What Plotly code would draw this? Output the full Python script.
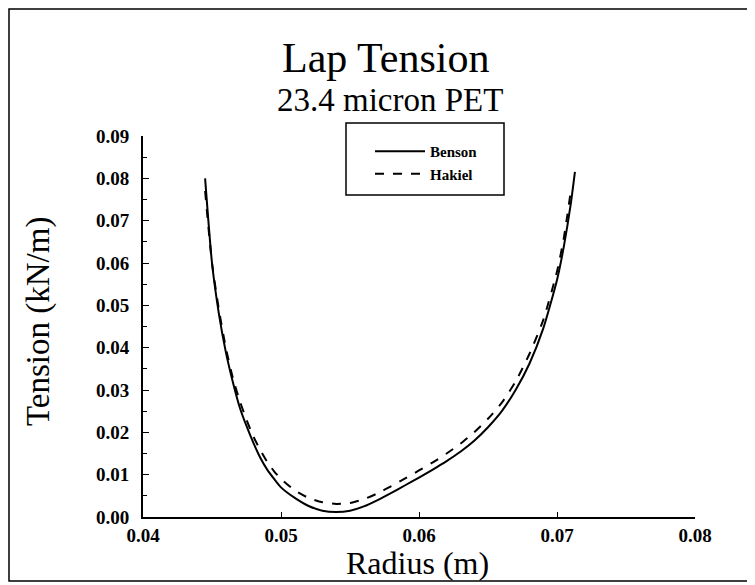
import plotly.graph_objects as go

radius = [0.0445, 0.0450, 0.0455, 0.0460, 0.0465, 0.0470, 0.0475, 0.0480, 0.0485,
          0.0490, 0.0495, 0.0500, 0.0510, 0.0520, 0.0530, 0.0540, 0.0550, 0.0560,
          0.0570, 0.0580, 0.0590, 0.0600, 0.0610, 0.0620, 0.0630, 0.0640, 0.0650,
          0.0660, 0.0670, 0.0680, 0.0690, 0.0700, 0.0705, 0.0710, 0.0713]
benson = [0.080, 0.060, 0.048, 0.039, 0.032, 0.026, 0.0215, 0.0175, 0.0140,
          0.0112, 0.0090, 0.0070, 0.0045, 0.0026, 0.0015, 0.0012, 0.0015, 0.0025,
          0.0040, 0.0057, 0.0075, 0.0093, 0.0112, 0.0132, 0.0154, 0.0180, 0.0212,
          0.0250, 0.0300, 0.0362, 0.0445, 0.0560, 0.0640, 0.0740, 0.0815]

radius_h = [0.0445, 0.0450, 0.0455, 0.0460, 0.0465, 0.0470, 0.0475, 0.0480, 0.0485,
            0.0490, 0.0495, 0.0500, 0.0510, 0.0520, 0.0530, 0.0540, 0.0550, 0.0560,
            0.0570, 0.0580, 0.0590, 0.0600, 0.0610, 0.0620, 0.0630, 0.0640, 0.0650,
            0.0660, 0.0670, 0.0680, 0.0690, 0.0700, 0.0705, 0.0710]
hakiel = [0.077, 0.060, 0.049, 0.040, 0.033, 0.0275, 0.023, 0.019, 0.0158,
          0.013, 0.0108, 0.0090, 0.0063, 0.0045, 0.0035, 0.0031, 0.0033, 0.0042,
          0.0056, 0.0073, 0.0091, 0.0110, 0.0129, 0.0150, 0.0173, 0.0200, 0.0232,
          0.0270, 0.0320, 0.0385, 0.0465, 0.0580, 0.0660, 0.0770]

x_ticks = [0.04, 0.05, 0.06, 0.07, 0.08]
x_ticklabels = ["0.04", "0.05", "0.06", "0.07", "0.08"]
y_ticks = [0.00, 0.01, 0.02, 0.03, 0.04, 0.05, 0.06, 0.07, 0.08, 0.09]
y_ticklabels = ["0.00", "0.01", "0.02", "0.03", "0.04", "0.05", "0.06", "0.07", "0.08", "0.09"]

title_text = "Lap Tension"
subtitle_text = "23.4 micron PET"

SERIF = "Liberation Serif, Times New Roman, serif"

fig = go.Figure()
fig.add_trace(go.Scatter(x=radius, y=benson, mode="lines", name="Benson",
                         line=dict(color="black", width=2, shape="spline", smoothing=0.6)))
fig.add_trace(go.Scatter(x=radius_h, y=hakiel, mode="lines", name="Hakiel",
                         line=dict(color="black", width=2, dash="dash", shape="spline", smoothing=0.6)))

# page body has an 8px margin, so the figure is drawn 8px smaller and
# positions below are given in screen pixels (then shifted by 8)
OFF = 8
W, H = 755 - OFF, 585 - OFF
L, R, T, B = 143 - OFF, 755 - 695, 136 - OFF, 585 - 517
pw, ph = W - L - R, H - T - B

def px(xs):
    return (xs - OFF - L) / pw

def py(ys):
    return 1 - (ys - OFF - T) / ph

fig.update_layout(
    width=W, height=H,
    margin=dict(l=L, r=R, t=T, b=B),
    paper_bgcolor="white", plot_bgcolor="white",
    font=dict(family=SERIF, color="black"),
    showlegend=True,
    legend=dict(x=px(370), y=py(135), xanchor="left", yanchor="top",
                bgcolor="rgba(0,0,0,0)", borderwidth=0,
                font=dict(family=SERIF, size=15, color="black", weight="bold"),
                itemwidth=50, tracegroupgap=0),
    xaxis=dict(range=[0.04, 0.08], tickvals=x_ticks, ticktext=x_ticklabels,
               showgrid=False, zeroline=False, showline=True, linecolor="black",
               linewidth=2, ticks="inside", ticklen=5, tickcolor="black",
               tickfont=dict(family=SERIF, size=19, weight="bold")),
    yaxis=dict(range=[0, 0.09], tickvals=y_ticks, ticktext=y_ticklabels,
               showgrid=False, zeroline=False, showline=True, linecolor="black",
               linewidth=2, ticks="inside", ticklen=6, tickcolor="black",
               ticklabelstandoff=8,
               tickfont=dict(family=SERIF, size=19, weight="bold"),
               minor=dict(dtick=0.005, ticks="inside", ticklen=4, tickcolor="black", showgrid=False)),
    annotations=[
        dict(text=title_text, x=px(385), y=py(58), xref="paper", yref="paper",
             showarrow=False, font=dict(family=SERIF, size=42), xanchor="center", yanchor="middle"),
        dict(text=subtitle_text, x=px(390), y=py(100), xref="paper", yref="paper",
             showarrow=False, font=dict(family=SERIF, size=33), xanchor="center", yanchor="middle"),
        dict(text="Tension (kN/m)", x=px(38), y=py(322), xref="paper", yref="paper",
             showarrow=False, textangle=-90, font=dict(family=SERIF, size=33),
             xanchor="center", yanchor="middle"),
        dict(text="Radius (m)", x=px(417), y=py(563), xref="paper", yref="paper",
             showarrow=False, font=dict(family=SERIF, size=32), xanchor="center", yanchor="middle"),
    ],
    shapes=[
        dict(type="rect", xref="paper", yref="paper", x0=px(346), x1=px(504),
             y0=py(195), y1=py(123), line=dict(color="black", width=1.5)),
        dict(type="rect", xref="paper", yref="paper", x0=px(9), x1=px(750),
             y0=py(581), y1=py(9), line=dict(color="black", width=1.5)),
    ],
)

fig.write_html("out.html")
